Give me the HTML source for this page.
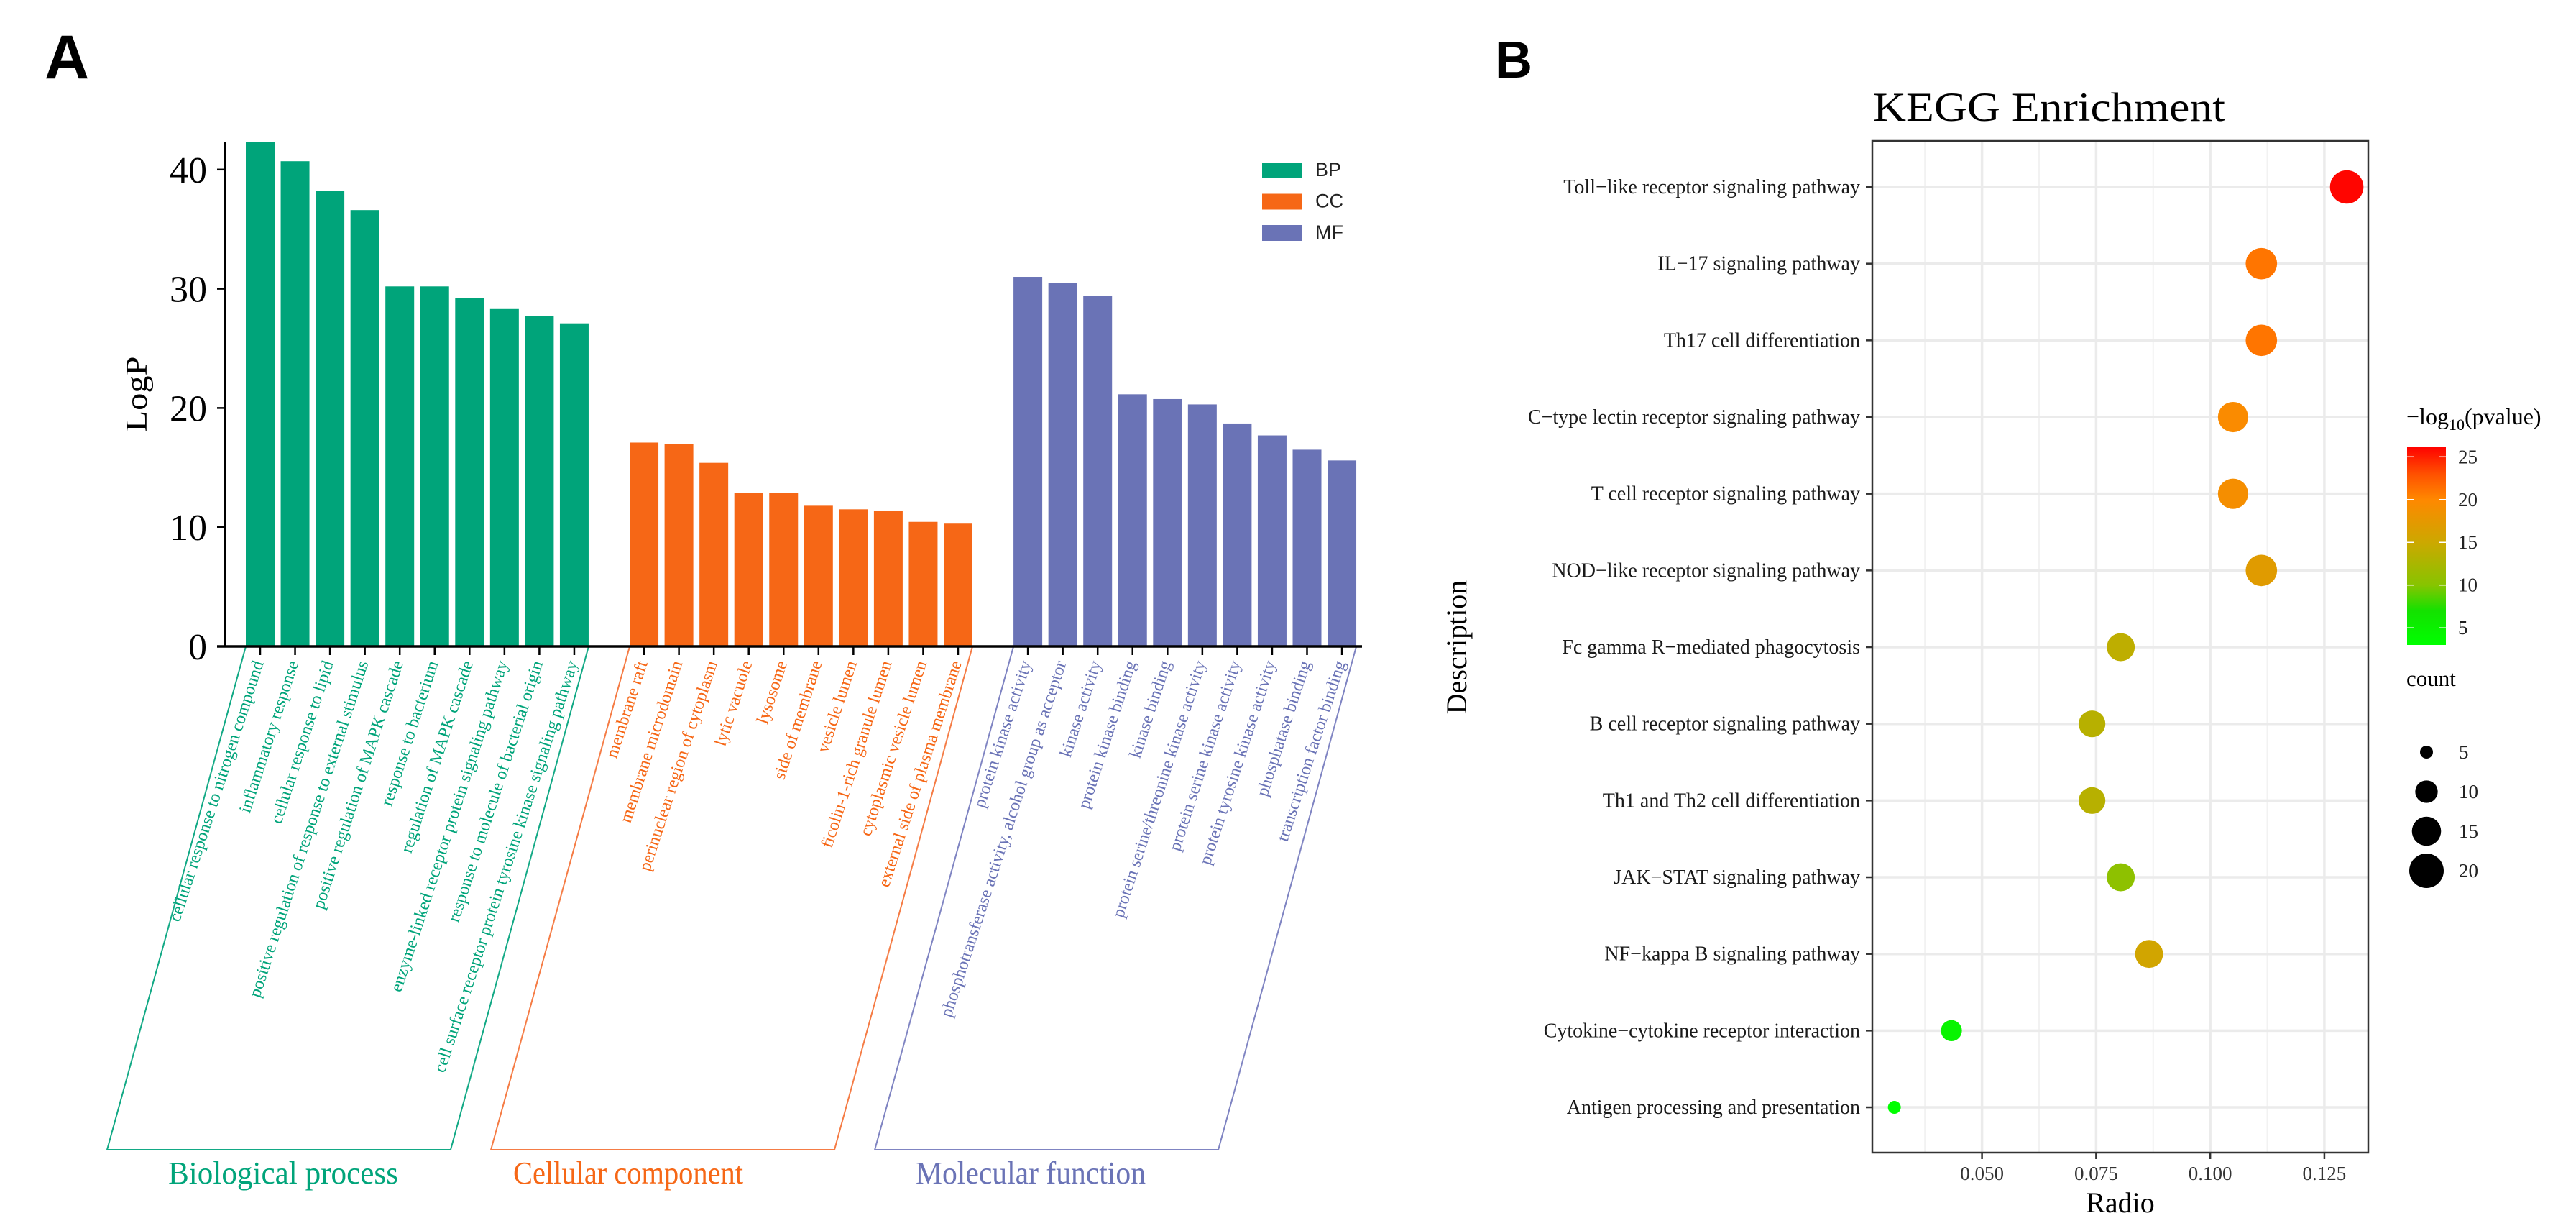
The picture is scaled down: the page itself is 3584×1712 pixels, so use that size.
<!DOCTYPE html>
<html><head><meta charset="utf-8"><style>
html,body{margin:0;padding:0;background:#fff}
svg{display:block}
text{font-family:"Liberation Serif",serif}
</style></head><body>
<svg id="chart" width="3584" height="1712" viewBox="0 0 3584 1712" xmlns="http://www.w3.org/2000/svg">
<g id="pa"></g>
<g id="pb"></g>
</svg>
<script>
// ===== Panel A data =====
const bpLabels = ["cellular response to nitrogen compound","inflammatory response","cellular response to lipid","positive regulation of response to external stimulus","positive regulation of MAPK cascade","response to bacterium","regulation of MAPK cascade","enzyme-linked receptor protein signaling pathway","response to molecule of bacterial origin","cell surface receptor protein tyrosine kinase signaling pathway"];
const bpValues = [42.3,40.7,38.2,36.6,30.2,30.2,29.2,28.3,27.7,27.1];
const ccLabels = ["membrane raft","membrane microdomain","perinuclear region of cytoplasm","lytic vacuole","lysosome","side of membrane","vesicle lumen","ficolin-1-rich granule lumen","cytoplasmic vesicle lumen","external side of plasma membrane"];
const ccValues = [17.1,17.0,15.4,12.85,12.85,11.8,11.5,11.4,10.45,10.3];
const mfLabels = ["protein kinase activity","phosphotransferase activity, alcohol group as acceptor","kinase activity","protein kinase binding","kinase binding","protein serine/threonine kinase activity","protein serine kinase activity","protein tyrosine kinase activity","phosphatase binding","transcription factor binding"];
const mfValues = [31.0,30.5,29.4,21.15,20.75,20.3,18.7,17.7,16.5,15.6];
const yTicksA = [0,10,20,30,40];

// ===== Panel B data =====
const keggTerms = ["Toll\u2212like receptor signaling pathway","IL\u221217 signaling pathway","Th17 cell differentiation","C\u2212type lectin receptor signaling pathway","T cell receptor signaling pathway","NOD\u2212like receptor signaling pathway","Fc gamma R\u2212mediated phagocytosis","B cell receptor signaling pathway","Th1 and Th2 cell differentiation","JAK\u2212STAT signaling pathway","NF\u2212kappa B signaling pathway","Cytokine\u2212cytokine receptor interaction","Antigen processing and presentation"];
const keggRatio = [0.1299,0.1112,0.1112,0.1050,0.1050,0.1112,0.0804,0.0741,0.0741,0.0804,0.0866,0.0433,0.0308];
const keggCount = [19,17,17,16,16,17,14,13,13,14,14,9,5];
const keggLogP = [26,21,21,19.5,19,17,14,13.5,13.5,10.5,15.5,4.5,3];
const xTicksB = [0.050,0.075,0.100,0.125];
const colorTicks = [5,10,15,20,25];
const sizeTicks = [5,10,15,20];

const NS="http://www.w3.org/2000/svg";
function mk(tag, attrs, parent, txt){const e=document.createElementNS(NS,tag);for(const k in attrs)e.setAttribute(k,attrs[k]);if(txt!==undefined)e.textContent=txt;parent.appendChild(e);return e;}
const SANS='font-family:"Liberation Sans",sans-serif';

// ---------- Panel A ----------
const pa=document.getElementById('pa');
const yA=v=>899-v*16.58;
const slot0=342, pitch=48.55, bw=40;
const groups=[
 {labels:bpLabels,values:bpValues,start:0,color:"#00A47A",line:"#12A985",name:"Biological process",key:"BP",gx:394},
 {labels:ccLabels,values:ccValues,start:11,color:"#F66716",line:"#F57C45",name:"Cellular component",key:"CC",gx:874},
 {labels:mfLabels,values:mfValues,start:22,color:"#6A73B6",line:"#7F84C2",name:"Molecular function",key:"MF",gx:1434}
];
let t=mk('text',{x:62,y:109,'font-size':86,'font-weight':'bold',style:SANS},pa,'A');


groups.forEach((g,gi)=>{
  const gEl=mk('g',{},pa);
  
  
  g.values.forEach((v,i)=>{
    const x=slot0+(g.start+i)*pitch;
    const r=mk('rect',{x:x,y:yA(v),width:bw,height:yA(0)-yA(v),fill:g.color},gEl);
    
    
    const cx=x+bw/2;
    mk('line',{x1:cx,y1:899,x2:cx,y2:911,stroke:'#000','stroke-width':2.5},gEl);
    const lt=mk('text',{x:cx+5,y:922,'text-anchor':'end','font-size':24,fill:g.color,transform:`rotate(-72 ${cx+5} 922)`},gEl,g.labels[i]);
    
    
  });
  const xl=slot0+g.start*pitch, xr=slot0+(g.start+9)*pitch+bw;
  const p=mk('polygon',{points:`${xl},899 ${xl-193},1599 ${xr-192},1599 ${xr},899`,fill:'none',stroke:g.line,'stroke-width':2},gEl);
  
  
  const gt=mk('text',{x:g.gx,y:1646,'text-anchor':'middle','font-size':44,fill:g.color,textLength:320,lengthAdjust:'spacingAndGlyphs'},gEl,g.name);
  
  
  const ly=226+gi*43.5;
  const lr=mk('rect',{x:1756,y:ly,width:56,height:22,fill:g.color},pa);
  
  
  const lt2=mk('text',{x:1830,y:ly+19,'font-size':27,fill:'#222',style:SANS},pa,g.key);
  
  
});
let ax=mk('line',{x1:313,y1:197,x2:313,y2:900,stroke:'#000','stroke-width':3},pa);

ax=mk('line',{x1:302,y1:899,x2:1895,y2:899,stroke:'#000','stroke-width':3.5},pa);

yTicksA.forEach(v=>{
  mk('line',{x1:302,y1:yA(v),x2:313,y2:yA(v),stroke:'#000','stroke-width':2.5},pa);
  const tt=mk('text',{x:288,y:yA(v)+18,'text-anchor':'end','font-size':52},pa,String(v));
  
  
});
t=mk('text',{x:204,y:548,'text-anchor':'middle','font-size':42,textLength:105,lengthAdjust:'spacingAndGlyphs',transform:'rotate(-90 204 548)'},pa,'LogP');


// ---------- Panel B ----------
const pb=document.getElementById('pb');
const xB=v=>2757.6+(v-0.05)*6351;
const rowY=i=>260+i*106.67;
const sizeD=c=>Math.sqrt(Math.max(20,-336+132*c));
const cstops=[[3,[0,255,0]],[7,[20,225,0]],[10,[135,196,0]],[15,[204,168,0]],[20,[255,136,0]],[23,[255,80,0]],[26.2,[255,0,0]]];
function colorOf(v){
  if(v<=cstops[0][0])return `rgb(${cstops[0][1]})`;
  for(let i=1;i<cstops.length;i++){if(v<=cstops[i][0]){const a=cstops[i-1],b=cstops[i];const f=(v-a[0])/(b[0]-a[0]);return 'rgb('+a[1].map((c,k)=>Math.round(c+(b[1][k]-c)*f)).join(',')+')';}}
  return 'rgb(255,0,0)';
}
t=mk('text',{x:2080,y:108,'font-size':72,'font-weight':'bold',style:SANS},pb,'B');

t=mk('text',{x:2606,y:168,'font-size':57,textLength:490,lengthAdjust:'spacingAndGlyphs'},pb,'KEGG Enrichment');

const PL=2605,PR=3295,PT=196,PB=1603;
xTicksB.forEach(v=>{
  mk('line',{x1:xB(v-0.0125),y1:PT,x2:xB(v-0.0125),y2:PB,stroke:'#F2F2F2','stroke-width':2},pb);
  const g=mk('line',{x1:xB(v),y1:PT,x2:xB(v),y2:PB,stroke:'#EBEBEB','stroke-width':3.5},pb);
  
});
keggTerms.forEach((s,i)=>{
  mk('line',{x1:PL,y1:rowY(i),x2:PR,y2:rowY(i),stroke:'#EBEBEB','stroke-width':3.5},pb);
});
keggTerms.forEach((s,i)=>{
  mk('line',{x1:2596,y1:rowY(i),x2:PL,y2:rowY(i),stroke:'#333','stroke-width':2.5},pb);
  const tl=mk('text',{x:2588,y:rowY(i)+9,'text-anchor':'end','font-size':28,fill:'#1a1a1a'},pb,s);
  
  
  const c=mk('circle',{cx:xB(keggRatio[i]),cy:rowY(i),r:sizeD(keggCount[i])/2,fill:colorOf(keggLogP[i])},pb);
  
  
});
let bx=mk('rect',{x:PL,y:PT,width:PR-PL,height:PB-PT,fill:'none',stroke:'#333','stroke-width':2.5},pb);

xTicksB.forEach(v=>{
  mk('line',{x1:xB(v),y1:PB,x2:xB(v),y2:PB+9,stroke:'#333','stroke-width':2.5},pb);
  const tt=mk('text',{x:xB(v),y:1641,'text-anchor':'middle','font-size':27,fill:'#333'},pb,v.toFixed(3));
  
  
});
t=mk('text',{x:2950,y:1686,'text-anchor':'middle','font-size':40},pb,'Radio');

t=mk('text',{x:2040,y:900,'text-anchor':'middle','font-size':40,transform:'rotate(-90 2040 900)'},pb,'Description');

const defs=mk('defs',{},pb);
const lg=mk('linearGradient',{id:'cg',x1:0,y1:1,x2:0,y2:0},defs);
const cbBot=897,cbTop=621,cMin=3,cMax=26.2;
const cbY=v=>cbBot-(v-cMin)/(cMax-cMin)*(cbBot-cbTop);
cstops.forEach(s=>mk('stop',{offset:(s[0]-cMin)/(cMax-cMin),'stop-color':`rgb(${s[1]})`},lg));
t=mk('text',{x:3348,y:590,'font-size':32},pb);

t.innerHTML='\u2212log<tspan font-size="22" dy="8">10</tspan><tspan dy="-8">(pvalue)</tspan>';
const cb=mk('rect',{x:3349,y:cbTop,width:54,height:cbBot-cbTop,fill:'url(#cg)'},pb);

colorTicks.forEach(v=>{
  mk('line',{x1:3349,y1:cbY(v),x2:3359,y2:cbY(v),stroke:'#fff','stroke-width':1.5},pb);
  mk('line',{x1:3393,y1:cbY(v),x2:3403,y2:cbY(v),stroke:'#fff','stroke-width':1.5},pb);
  const tt=mk('text',{x:3420,y:cbY(v)+9,'font-size':27,fill:'#222'},pb,String(v));
  
  
});
t=mk('text',{x:3348,y:954,'font-size':31},pb,'count');

sizeTicks.forEach((v,i)=>{
  const y=1046+i*55;
  const c=mk('circle',{cx:3376,cy:y,r:sizeD(v)/2,fill:'#000'},pb);
  
  
  const tt=mk('text',{x:3421,y:y+9,'font-size':27,fill:'#222'},pb,String(v));
  
  
});
</script>
</body></html>
